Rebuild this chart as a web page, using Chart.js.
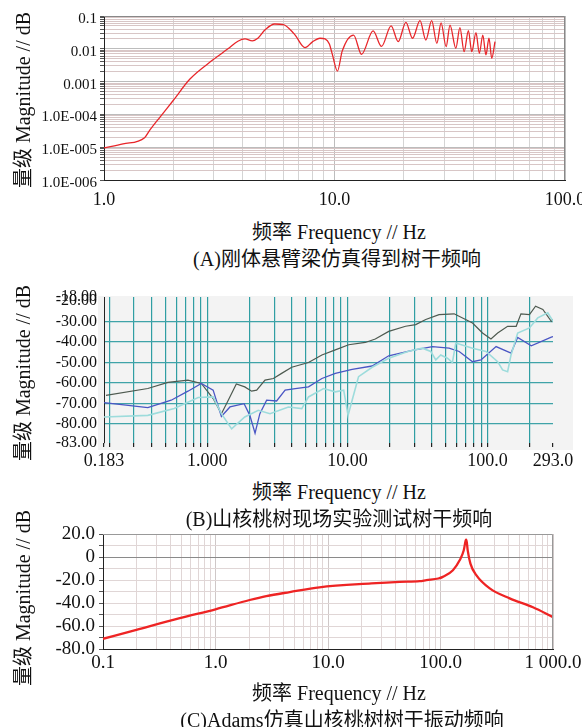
<!DOCTYPE html>
<html>
<head>
<meta charset="utf-8">
<script src="https://cdn.jsdelivr.net/npm/chart.js@4.4.1/dist/chart.umd.min.js"></script>
<style>
  body { margin: 0; background: #fff; width: 582px; height: 727px; position: relative; overflow: hidden;
         font-family: "Liberation Serif", "Noto Sans CJK SC", serif; color: #111; }
  canvas { position: absolute; left: 0; }
  .t { position: absolute; white-space: nowrap; font-size: 20px; transform: translate(-50%, -50%); }
  .v { transform: translate(-50%, -50%) rotate(-90deg); }
</style>
</head>
<body>
<canvas id="a" width="582" height="215" style="top:0"></canvas>
<canvas id="b" width="582" height="200" style="top:275px"></canvas>
<canvas id="c" width="582" height="165" style="top:515px"></canvas>

<div class="t v" style="left:21px;top:100px">量级 Magnitude // dB</div>
<div class="t" style="left:339px;top:230px">频率 Frequency // Hz</div>
<div class="t" style="left:337px;top:257px">(A)刚体悬臂梁仿真得到树干频响</div>

<div class="t v" style="left:21px;top:373px">量级 Magnitude // dB</div>
<div class="t" style="left:339px;top:490px">频率 Frequency // Hz</div>
<div class="t" style="left:339px;top:517px">(B)山核桃树现场实验测试树干频响</div>

<div class="t v" style="left:21px;top:598px">量级 Magnitude // dB</div>
<div class="t" style="left:339px;top:691px">频率 Frequency // Hz</div>
<div class="t" style="left:342px;top:718px">(C)Adams仿真山核桃树树干振动频响</div>

<script>
// (A) rigid cantilever simulation
const aFreq = [1.0, 1.21, 1.5, 1.58, 1.75, 2.0, 2.36, 2.97, 3.45, 3.81, 4.09, 4.4, 4.65, 5.0, 5.5, 6.0, 6.7, 7.45,
  8.0, 8.65, 9.1, 9.5, 9.8, 10.3, 10.8, 12.1, 13.1, 14.7, 16.0, 17.6, 18.9, 20.4, 21.8, 23.5, 24.9, 26.4, 27.8, 29.0,
  30.5, 31.7, 33.6, 35.0, 36.5, 38.1, 39.4, 41.1, 42.5, 44.0, 45.4, 46.8, 48.1, 49.7];
const aMag = [9.5e-6, 1.26e-5, 1.95e-5, 3.3e-5, 8.3e-5, 2.7e-4, 1.2e-3, 4.6e-3, 0.010, 0.017, 0.020, 0.0175, 0.021,
  0.038, 0.057, 0.055, 0.028, 0.0108, 0.016, 0.021, 0.020, 0.014, 0.0065, 0.0021, 0.0085, 0.026, 0.0068, 0.035,
  0.0118, 0.050, 0.0165, 0.064, 0.021, 0.072, 0.0185, 0.072, 0.0147, 0.062, 0.0116, 0.053, 0.0104, 0.044, 0.0082,
  0.036, 0.0082, 0.031, 0.0073, 0.026, 0.0065, 0.021, 0.0051, 0.0165];
const aXLabelVals = [1, 10, 100];
const aXLabels = ['1.0', '10.0', '100.0'];
const aYLabelVals = [1e-6, 1e-5, 1e-4, 1e-3, 1e-2, 1e-1];
const aYLabels = ['1.0E-006', '1.0E-005', '1.0E-004', '0.001', '0.01', '0.1'];

// (B) field test, three measurement channels
const bDarkFreq = [0.189, 0.376, 0.523, 0.727, 0.906, 1.10, 1.26, 1.41, 1.61, 1.85, 2.07, 2.25, 2.58, 2.96, 3.39,
  4.0, 5.27, 6.57, 8.19, 10.2, 13.4, 15.8, 19.7, 26, 30.7, 36.2, 45, 57.7, 78.1, 92, 105.7, 118, 139, 160, 173,
  199, 220, 248, 285, 293];
const bDarkMag = [-66.0, -62.7, -59.7, -58.6, -60.2, -67.6, -75.0, -68.4, -60.5, -61.9, -64.0, -63.5, -58.6, -57.8,
  -55.3, -52.3, -50.0, -46.3, -43.8, -41.3, -40.2, -38.5, -34.8, -32.3, -31.5, -29.0, -26.6, -26.2, -30.7, -35.6,
  -38.5, -35.6, -32.3, -32.3, -26.2, -26.6, -22.5, -24.1, -29.9, -29.0];
const bBlueFreq = [0.183, 0.376, 0.552, 0.727, 0.906, 1.10, 1.26, 1.45, 1.83, 2.01, 2.19, 2.37, 2.65, 3.12, 3.59,
  4.24, 5.27, 6.57, 8.19, 10.8, 15.0, 19.7, 29, 40.4, 53.1, 62.7, 78.1, 89.7, 115, 147, 164, 205, 285, 293];
const bBlueMag = [-69.6, -72.0, -68.4, -64.0, -60.2, -63.5, -76.3, -71.7, -70.1, -75.8, -84.5, -75.0, -68.4, -68.8,
  -63.5, -62.7, -61.9, -57.8, -55.3, -53.3, -51.7, -46.7, -44.1, -42.2, -43.0, -44.6, -49.6, -48.7, -42.2, -45.4,
  -37.7, -41.8, -37.6, -37.3];
const bCyanFreq = [0.183, 0.376, 0.58, 0.86, 1.10, 1.26, 1.49, 1.85, 2.31, 2.8, 3.79, 4.72, 5.27, 6.75, 8.19, 9.4,
  10.1, 10.8, 12.0, 15.0, 19.7, 27, 34.2, 39.3, 42.7, 46.3, 51.7, 56.1, 59.3, 78.1, 97.5, 118, 128, 139, 147, 164,
  199, 228, 269, 293];
const bCyanMag = [-76.6, -75.8, -72.5, -67.1, -66.8, -75.0, -82.4, -76.6, -73.3, -75.0, -71.7, -72.5, -66.8, -62.7,
  -64.3, -63.5, -75.8, -68.4, -56.9, -52.3, -47.9, -44.6, -43.0, -44.6, -48.7, -46.3, -47.9, -50.0, -40.5, -43.0,
  -44.6, -49.6, -53.6, -54.5, -46.3, -35.6, -33.1, -28.2, -25.7, -29.9];
const bXLabelVals = [0.183, 1, 10, 100, 293];
const bXLabels = ['0.183', '1.000', '10.00', '100.0', '293.0'];
const bYLabelVals = [-18, -20, -30, -40, -50, -60, -70, -80];
const bYLabels = ['-18.00', '-20.00', '-30.00', '-40.00', '-50.00', '-60.00', '-70.00', '-80.00'];
const bYBottomLabel = '-83.00'; // the original prints this at the bottom edge of the plot
const bYMin = -89.3, bYMax = -18;

// (C) Adams simulation
const cFreq = [0.1, 0.198, 0.481, 1.0, 2.01, 2.83, 4.57, 8.39, 24.3, 43.4, 65.3, 75, 95.6, 105, 129, 148, 161,
  167.5, 170, 174.5, 184.5, 208, 274, 412, 664, 1000];
const cMag = [-71.1, -63.3, -53.2, -45.5, -37.4, -34.0, -30.5, -26.4, -23.0, -21.6, -21.0, -20.1, -18.7, -17.3,
  -11.5, -2.9, 5.8, 14.4, 15.0, 5.8, -5.7, -15.8, -27.3, -36.0, -43.7, -52.3];
const cXLabelVals = [0.1, 1, 10, 100, 1000];
const cXLabels = ['0.1', '1.0', '10.0', '100.0', '1 000.0'];
const cYLabelVals = [20, 0, -20, -40, -60, -80];
const cYLabels = ['20.0', '0', '-20.0', '-40.0', '-60.0', '-80.0'];

function logGrid(lo, hi) {
  const out = [];
  for (let e = lo; e < hi; e++) for (let m = 1; m < 10; m++) out.push(m * Math.pow(10, e));
  out.push(Math.pow(10, hi));
  return out;
}
function same(a, b) { return Math.abs(a - b) <= Math.abs(b) * 1e-6 + 1e-9; }
function pick(vals, labels) {
  return v => { const i = vals.findIndex(x => same(v, x)); return i < 0 ? '' : labels[i]; };
}
function pts(xs, ys) { return xs.map((x, i) => ({ x, y: ys[i] })); }
function isDecade(v) { return same(Math.pow(10, Math.round(Math.log10(v))), v); }

const frame = color => ({
  id: 'frame',
  afterDraw(c) {
    const { ctx, chartArea: a } = c;
    ctx.save();
    ctx.strokeStyle = color; ctx.lineWidth = 1;
    ctx.beginPath();
    ctx.moveTo(a.left, a.top + 0.5); ctx.lineTo(a.right - 0.5, a.top + 0.5); ctx.lineTo(a.right - 0.5, a.bottom);
    ctx.stroke();
    ctx.restore();
  }
});

const serif = s => ({ family: '"Liberation Serif", serif', size: s });
const base = { responsive: false, animation: false, plugins: { legend: { display: false }, tooltip: { enabled: false } },
  elements: { point: { radius: 0 } } };

// ---------- A ----------
new Chart(document.getElementById('a'), {
  type: 'line',
  data: { datasets: [{ data: pts(aFreq, aMag), borderColor: '#e8262a', borderWidth: 1.3, cubicInterpolationMode: 'monotone' }] },
  options: {
    ...base,
    layout: { padding: { top: 16, right: 17, bottom: 5, left: 0 } },
    scales: {
      x: {
        type: 'logarithmic', min: 1, max: 100,
        afterBuildTicks: s => { s.ticks = logGrid(0, 2).map(value => ({ value })); },
        afterFit: s => { s.height = 30; s.paddingLeft = 0; s.paddingRight = 0; },
        ticks: { autoSkip: false, maxRotation: 0, padding: 9, color: '#111', font: serif(18), callback: pick(aXLabelVals, aXLabels) },
        grid: { drawTicks: false, color: c => isDecade(c.tick.value) ? '#bdbdbd' : '#d4d4d4' },
        border: { color: '#222' }
      },
      y: {
        type: 'logarithmic', min: 1e-6, max: 0.1,
        afterBuildTicks: s => { s.ticks = logGrid(-6, -1).map(value => ({ value })); },
        afterFit: s => { s.width = 104; },
        ticks: { autoSkip: false, padding: 3, labelOffset: 3, color: '#111', font: serif(15), callback: pick(aYLabelVals, aYLabels) },
        grid: { tickLength: 4, tickColor: '#555',
                color: c => isDecade(c.tick.value) ? '#bcbcbc' : '#d8c6c6' },
        border: { color: '#222' }
      }
    }
  },
  plugins: [frame('#888')]
});

// ---------- B ----------
const bGrid = [0.183, ...logGrid(-1, 3).filter(v => v > 0.19 && v < 290), 293];
const panel = {
  id: 'panel',
  beforeDraw(c) {
    const { ctx, chartArea: a } = c;
    ctx.save();
    ctx.fillStyle = '#f3f3f3';
    ctx.fillRect(a.left - 6, a.top - 1, a.width + 26, a.height + 8);
    ctx.restore();
  }
};
new Chart(document.getElementById('b'), {
  type: 'line',
  data: { datasets: [
    { data: pts(bCyanFreq, bCyanMag), borderColor: '#9ddcdc', borderWidth: 1.6, tension: 0 },
    { data: pts(bBlueFreq, bBlueMag), borderColor: '#4a56c4', borderWidth: 1.3, tension: 0 },
    { data: pts(bDarkFreq, bDarkMag), borderColor: '#4e5a50', borderWidth: 1.2, tension: 0 }
  ] },
  options: {
    ...base,
    layout: { padding: { top: 22, right: 29, bottom: 2, left: 0 } },
    scales: {
      x: {
        type: 'logarithmic', min: 0.183, max: 293,
        afterBuildTicks: s => { s.ticks = bGrid.map(value => ({ value })); },
        afterFit: s => { s.height = 30; s.paddingLeft = 0; s.paddingRight = 0; },
        ticks: { autoSkip: false, maxRotation: 0, padding: 3, color: '#111', font: serif(18), callback: pick(bXLabelVals, bXLabels) },
        grid: { tickLength: 4, tickColor: '#222', lineWidth: 1.2,
                color: c => (same(c.tick.value, 0.183) || same(c.tick.value, 293)) ? 'rgba(0,0,0,0)' : '#2f9ea3' },
        border: { display: false }
      },
      y: {
        type: 'linear', min: bYMin, max: bYMax,
        afterBuildTicks: s => { s.ticks = [bYMin, ...bYLabelVals].map(value => ({ value })); },
        afterFit: s => { s.width = 104; },
        ticks: { autoSkip: false, padding: 7, color: '#111', font: serif(16),
                 callback: v => same(v, bYMin) ? bYBottomLabel : pick(bYLabelVals, bYLabels)(v) },
        grid: { drawTicks: false, lineWidth: 1.2, color: c => (c.tick.value <= -30 && c.tick.value >= -80) ? '#3fa3a8' : 'rgba(0,0,0,0)' },
        border: { color: '#222' }
      }
    }
  },
  plugins: [panel]
});

// ---------- C ----------
const cYGrid = [-80, -70, -60, -50, -40, -30, -20, -10, 0, 10, 20];
new Chart(document.getElementById('c'), {
  type: 'line',
  data: { datasets: [{ data: pts(cFreq, cMag), borderColor: '#ee2424', borderWidth: 2.3, cubicInterpolationMode: 'monotone' }] },
  options: {
    ...base,
    layout: { padding: { top: 19, right: 29, bottom: 5, left: 0 } },
    scales: {
      x: {
        type: 'logarithmic', min: 0.1, max: 1000,
        afterBuildTicks: s => { s.ticks = logGrid(-1, 3).map(value => ({ value })); },
        afterFit: s => { s.height = 26; s.paddingLeft = 0; s.paddingRight = 0; },
        ticks: { autoSkip: false, maxRotation: 0, padding: 3, color: '#111', font: serif(19), callback: pick(cXLabelVals, cXLabels) },
        grid: { drawTicks: false, color: c => isDecade(c.tick.value) ? '#cfc8c8' : '#e0d6d6' },
        border: { color: '#222' }
      },
      y: {
        type: 'linear', min: -80, max: 20,
        afterBuildTicks: s => { s.ticks = cYGrid.map(value => ({ value })); },
        afterFit: s => { s.width = 103; },
        ticks: { autoSkip: false, padding: 4, color: '#111', font: serif(19), callback: pick(cYLabelVals, cYLabels) },
        grid: { tickLength: 4, tickColor: '#555', color: c => c.tick.value === 0 ? '#8a8a8a' : '#e0d6d6' },
        border: { color: '#222' }
      }
    }
  },
  plugins: [frame('#999')]
});
</script>
</body>
</html>
